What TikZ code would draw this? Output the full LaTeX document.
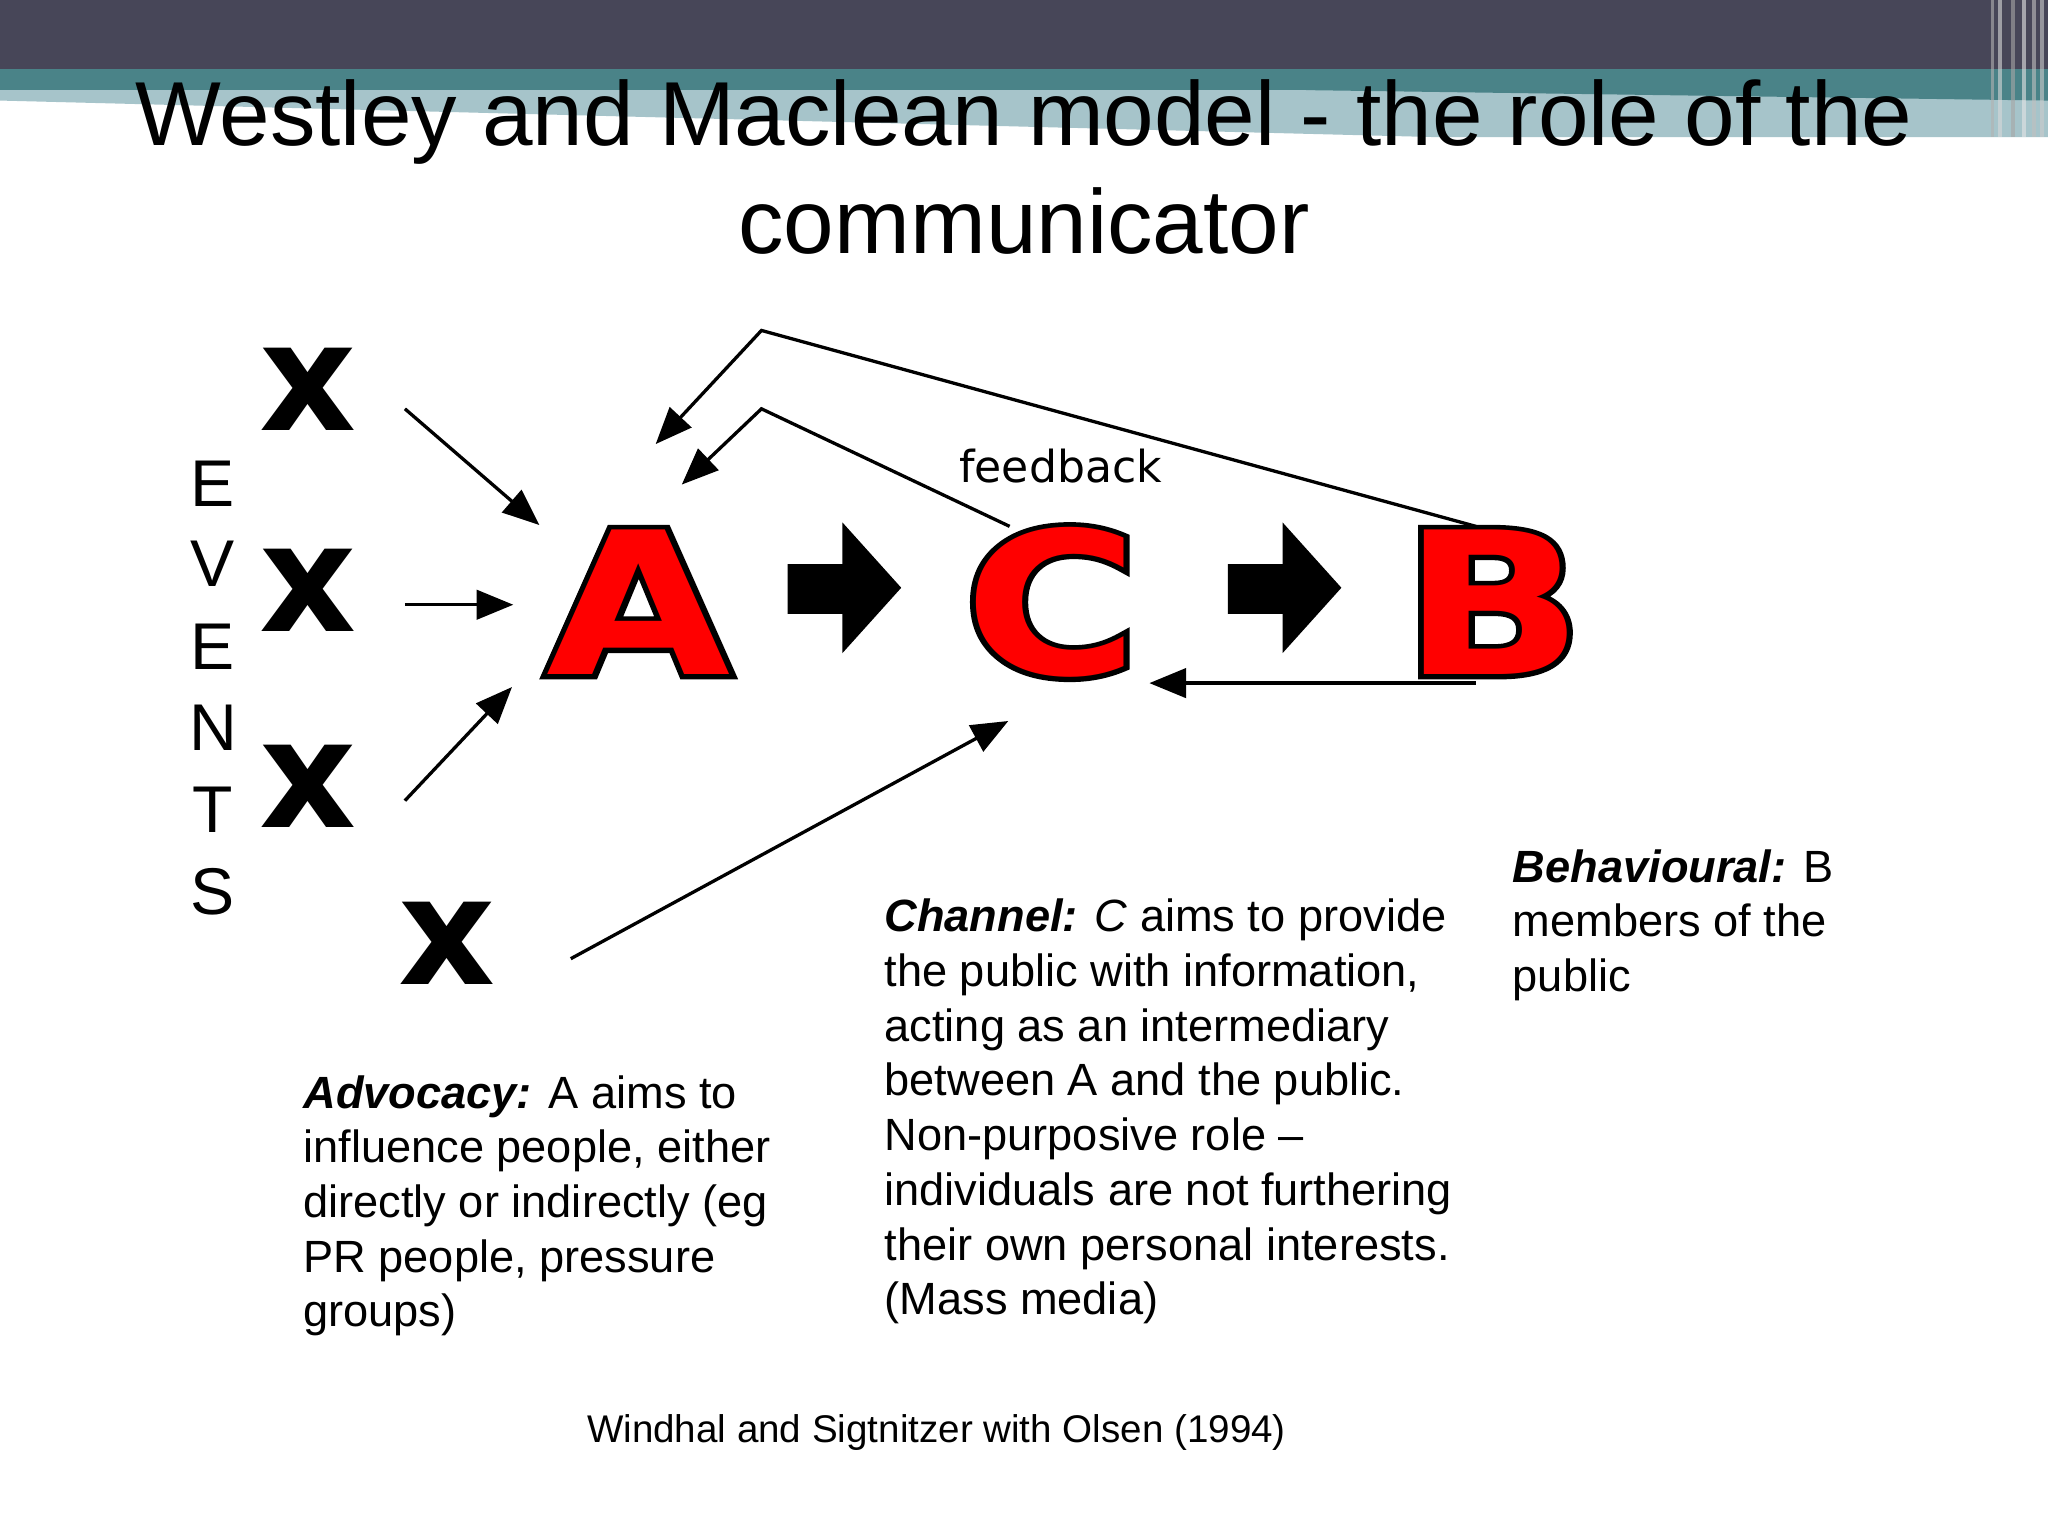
\documentclass[tikz,border=0pt]{standalone}
\usepackage{graphicx}
\usepackage{fontspec}
\setmainfont{Liberation Sans}
\newfontfamily\dejavu{DejaVu Sans}
\newfontfamily\heavy{DejaVu Sans}[BoldFont={DejaVu Sans Bold}]
\newfontfamily\heavyout{DejaVu Sans Bold}[FakeBold=5]
\usetikzlibrary{arrows.meta}
\definecolor{barDark}{HTML}{474658}
\definecolor{barTeal}{HTML}{4A8388}
\definecolor{barLight}{HTML}{A6C4CA}
\definecolor{bigRed}{HTML}{FF0000}
\newcommand{\wideletter}[1]{\scalebox{1.2}[1]{#1}}
\begin{document}
\begin{tikzpicture}[x=0.025cm,y=-0.025cm,
  conn/.style={draw=black,line width=1.8pt,-{Triangle[length=20pt,width=16pt]}},
  exmark/.style={font=\heavy\fontsize{82}{82}\selectfont\bfseries,inner sep=0},
  evletter/.style={font=\fontsize{36}{36}\selectfont,inner sep=0},
  body/.style={font=\fontsize{24.6}{29.8}\selectfont,align=left,anchor=north west,inner sep=0},
  bigout/.style={inner sep=0,text=black,font=\heavyout\fontsize{108}{108}\selectfont},
  bigin/.style={inner sep=0,text=bigRed,font=\heavy\fontsize{108}{108}\selectfont\bfseries},
  fat/.style={fill=black}]
\useasboundingbox (0,0) rectangle (1568,1176);
\fill[white] (0,0) rectangle (1568,1176);
% top bar
\fill[barDark] (0,0) rectangle (1568,53);
\fill[barLight] (0,69) -- (1568,69) -- (1568,105) -- (1100,105) -- (0,77) -- cycle;
\fill[barTeal] (0,53) rectangle (1568,69);
\fill[barTeal] (1000,69) -- (1568,69) -- (1568,77) -- cycle;
\foreach \xx/\cc in {1524/gray!60,1530/white!70!gray,1540/gray!70,1548/white!80!gray,1556/gray!50,1562/white!60!gray}
  \fill[\cc,opacity=0.6] (\xx,0) rectangle ++(3,105);
% title
\node[font=\fontsize{49.5}{59}\selectfont,align=center,inner sep=0] (title) at (784,128)
  {Westley and Maclean model - the role of the\\communicator};
% EVENTS
\foreach \l/\yy [count=\i] in {E/370,V/432,E/495,N/557,T/620,S/683}
  \node[evletter] (ev\i) at (163,\yy) {\l};
% x marks
\node[exmark] (x1) at (236,298) {x};
\node[exmark] (x2) at (236,452) {x};
\node[exmark] (x3) at (236,602) {x};
\node[exmark] (x4) at (342,722) {x};
% big letters with outline
\node[bigout] (Ao) at (489,461) {\wideletter{A}};
\node[bigout] (Co) at (805,461) {\wideletter{C}};
\node[bigout] (Bo) at (1143,461) {\wideletter{B}};
\node[bigin] (A) at (489,461) {\wideletter{A}};
\node[bigin] (C) at (805,461) {\wideletter{C}};
\node[bigin] (B) at (1143,461) {\wideletter{B}};
% fat arrows
\fill[fat] (603,432) -- (645,432) -- (645,400) -- (690,450) -- (645,500) -- (645,470) -- (603,470) -- cycle;
\fill[fat] (940,432) -- (982,432) -- (982,400) -- (1027,450) -- (982,500) -- (982,470) -- (940,470) -- cycle;
% coordinates
\coordinate (s1) at (310,313); \coordinate (e1) at (413,402);
\coordinate (s2) at (310,463); \coordinate (e2) at (393,463);
\coordinate (s3) at (310,613); \coordinate (e3) at (392,526);
\coordinate (s4) at (437,734); \coordinate (e4) at (772,552);
\coordinate (bt) at (1130,403); \coordinate (k1) at (583,253); \coordinate (e5) at (502,340);
\coordinate (ct) at (773,403); \coordinate (k2) at (583,313); \coordinate (e6) at (522,371);
\coordinate (bb) at (1130,523); \coordinate (e7) at (880,523);
\draw[conn] (s1) -- (e1);
\draw[conn] (s2) -- (e2);
\draw[conn] (s3) -- (e3);
\draw[conn] (s4) -- (e4);
\draw[conn] (bt) -- (k1) -- (e5);
\draw[conn] (ct) -- (k2) -- (e6);
\draw[conn] (bb) -- (e7);
% labels
\node[font=\dejavu\fontsize{24}{24}\selectfont,inner sep=0] (fb) at (812,357) {feedback};
\node[body] (adv) at (232,823) {\textbf{\textit{Advocacy:}} A aims to\\influence people, either\\directly or indirectly (eg\\PR people, pressure\\groups)};
\node[body] (chan) at (677,688) {\textbf{\textit{Channel:}} \textit{C} aims to provide\\the public with information,\\acting as an intermediary\\between A and the public.\\Non-purposive role --\\individuals are not furthering\\their own personal interests.\\(Mass media)};
\node[body] (beh) at (1158,650) {\textbf{\textit{Behavioural:}} B\\members of the\\public};
\node[font=\fontsize{21}{21}\selectfont,inner sep=0] (src) at (717,1097) {Windhal and Sigtnitzer with Olsen (1994)};
\end{tikzpicture}
\end{document}
